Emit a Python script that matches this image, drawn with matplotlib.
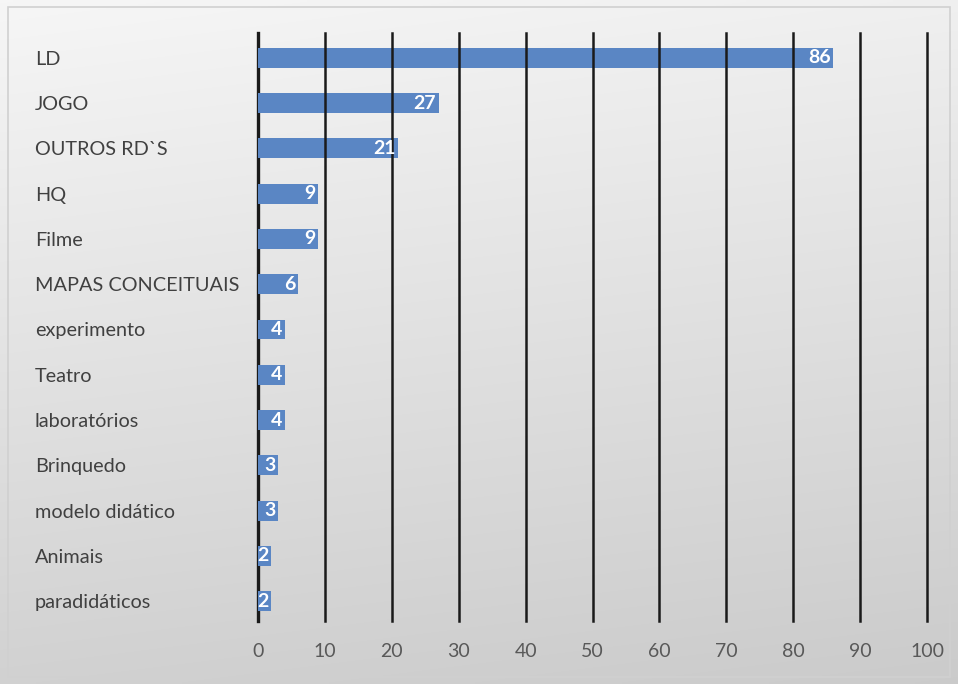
import numpy as np
import matplotlib
matplotlib.use("Agg")
import matplotlib.pyplot as plt
from matplotlib.patches import Rectangle

categories = ["LD", "JOGO", "OUTROS RD`S", "HQ", "Filme", "MAPAS CONCEITUAIS",
              "experimento", "Teatro", "laboratórios", "Brinquedo",
              "modelo didático", "Animais", "paradidáticos"]
values = [86, 27, 21, 9, 9, 6, 4, 4, 4, 3, 3, 2, 2]
xticks = [0, 10, 20, 30, 40, 50, 60, 70, 80, 90, 100]

plt.rcParams['font.family'] = ['Lato', 'DejaVu Sans']

W, H = 958, 684
fig = plt.figure(figsize=(W / 100, H / 100), dpi=100)

# background gradient
bg = fig.add_axes([0, 0, 1, 1], zorder=-10)
yy = np.linspace(0, 1, 200)[:, None]
xx = np.linspace(0, 1, 200)[None, :]
grad = 0.965 - 0.17 * (0.85 * yy + 0.15 * xx)
bg.imshow(np.dstack([grad, grad, grad]), aspect='auto', extent=[0, 1, 1, 0],
          interpolation='bilinear')
bg.set_xlim(0, 1)
bg.set_ylim(1, 0)
bg.axis('off')
bg.add_patch(Rectangle((8 / W, 7 / H), (W - 16) / W, (H - 14) / H,
                       fill=False, edgecolor='#d0d0d0', lw=1.2))

left = 258 / W
right = 927 / W
top = 1 - 33 / H
bottom = 1 - 621 / H
ax = fig.add_axes([left, bottom, right - left, top - bottom])
ax.patch.set_alpha(0)

ypos = np.arange(len(categories))
ax.barh(ypos, values, height=0.44, color='#5a86c4', zorder=2)
ax.set_xlim(0, 100)
ax.set_ylim(12.44, -0.55)

for xv in xticks:
    ax.axvline(xv, color='#1a1a1a', lw=2.4 if xv == 0 else 1.8,
               zorder=3 if xv else 1, clip_on=False)

for y, v in zip(ypos, values):
    ax.text(v - 0.4, y, str(v), ha='right', va='center', color='white',
            fontsize=14, fontweight='bold', zorder=4)

for s in ax.spines.values():
    s.set_visible(False)
ax.set_xticks(xticks)
ax.set_xticklabels([str(t) for t in xticks], color='#595959', fontsize=14)
ax.tick_params(axis='x', length=0, pad=16)
ax.set_yticks(ypos)
ax.set_yticklabels(categories, color='#404040', fontsize=14.3, ha='left')
ax.tick_params(axis='y', length=0, pad=(258 - 35) * 0.72)

fig.savefig("out.png", dpi=100)
